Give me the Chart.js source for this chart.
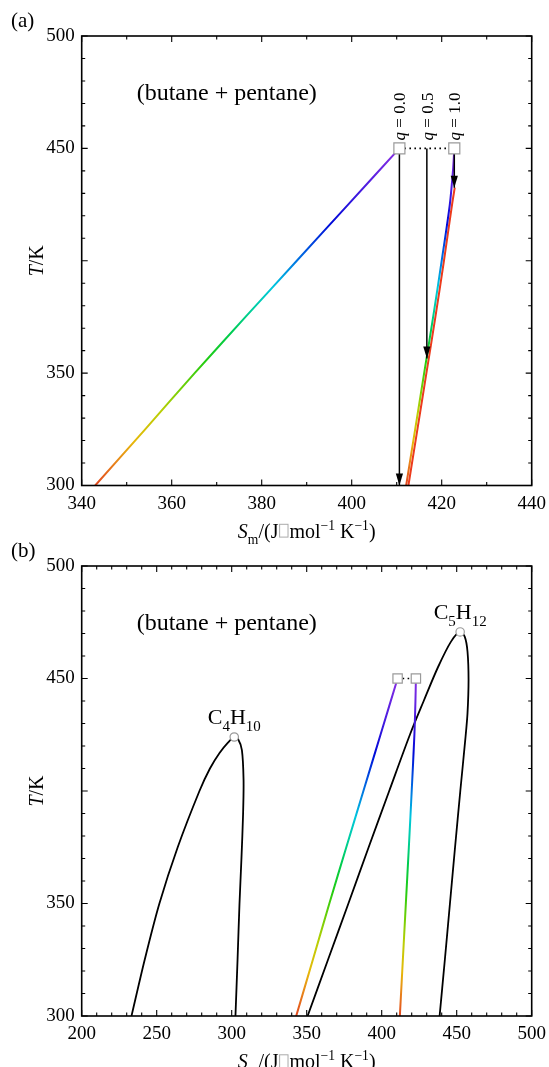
<!DOCTYPE html>
<html>
<head>
<meta charset="utf-8">
<script src="https://cdn.jsdelivr.net/npm/chart.js@4.4.0/dist/chart.umd.min.js"></script>
<style>
  body { margin: 0; background: #fff; }
  #wrap { position: relative; width: 549px; height: 1067px; overflow: hidden; }
  .panel { position: absolute; left: 0; width: 549px; }
  #pa { top: 0; height: 548px; }
  #pb { top: 533px; height: 534px; }
</style>
</head>
<body>
<div id="wrap">
  <div class="panel" id="pa"><canvas id="chartA"></canvas></div>
  <div class="panel" id="pb"><canvas id="chartB"></canvas></div>
</div>
<script>
// mixture (butane + pentane) saturation lines, coloured by temperature
const dewT = [300, 325, 350, 375, 400, 425, 450];
const dewS = [343.0, 354.1, 365.1, 376.4, 387.8, 399.2, 410.6];
const bubT = [300, 325, 350, 375, 400, 425, 440, 450];
const bubS = [412.1, 414.1, 416.1, 418.1, 420.0, 421.8, 422.5, 422.8];

// end states of the expansions (red line, panel a)
const endT = [300, 325, 350, 375, 400, 425, 432.5];
const endS = [412.6, 414.6, 416.6, 418.6, 420.5, 422.3, 422.9];

// expansions from 450 K
const qValues = ['0.0', '0.5', '1.0'];
const qS = [410.6, 416.7, 422.8];
const qTopT = 450;
const qEndT = [300, 356.5, 432.5];

// pure fluids saturation domes
const butS = [233.2, 242.0, 251.8, 264.0, 278.5, 285.5, 292.0, 297.5, 301.7, 304.3, 306.8, 307.9, 307.6, 306.5, 305.2, 303.9, 302.5];
const butT = [300, 325, 350, 375, 400, 410, 417, 421.5, 424, 423, 418.2, 405, 390, 370, 350, 325, 300];
const penS = [350.6, 364.2, 377.8, 391.3, 405.0, 418.8, 428.0, 437.5, 446.3, 452.3, 455.4, 457.2, 457.9, 457.2, 455.7, 452.4, 448.9, 445.5, 442.1, 438.6];
const penT = [300, 325, 350, 375, 400, 425, 440, 455, 466.5, 470.7, 468.5, 462, 449.3, 434.5, 422.7, 400, 375, 350, 325, 300];
const critNames = ['C4H10', 'C5H12'];
const critS = [301.7, 452.3];
const critT = [424, 470.7];

const pts = (S, T) => S.map((s, i) => ({ x: s, y: T[i] }));

const rainbow = [
  [0.00, '#e2471f'], [0.07, '#e8851a'], [0.13, '#e6b80a'], [0.22, '#b9cf05'],
  [0.30, '#66cf08'], [0.37, '#22cc12'], [0.45, '#00cc4e'], [0.52, '#00cf9c'],
  [0.59, '#00c6de'], [0.67, '#0072e2'], [0.78, '#0008d8'], [0.88, '#4a1ce0'], [1.00, '#8a2ee4']
];
function tempGradient(c) {
  const chart = c.chart;
  if (!chart.chartArea) return '#e2471f';
  const y = chart.scales.y;
  const g = chart.ctx.createLinearGradient(0, y.getPixelForValue(300), 0, y.getPixelForValue(450));
  rainbow.forEach(s => g.addColorStop(s[0], s[1]));
  return g;
}

const SERIF = '"Liberation Serif", "Times New Roman", serif';
function fontFor(p, size) {
  const s = (p.sub || p.sup) ? size * 0.68 : size;
  return (p.i ? 'italic ' : '') + s + 'px ' + SERIF;
}
function partWidth(ctx, p, size) {
  if (p.box) return size * 0.55;
  ctx.font = fontFor(p, size);
  return ctx.measureText(p.t).width;
}
function drawRich(ctx, parts, x, y, size, align) {
  const w = parts.map(p => partWidth(ctx, p, size));
  const total = w.reduce((a, b) => a + b, 0);
  let cx = align === 'center' ? x - total / 2 : x;
  ctx.textAlign = 'left';
  ctx.textBaseline = 'alphabetic';
  parts.forEach((p, i) => {
    if (p.box) {
      // missing-glyph box, as in the original figure
      ctx.strokeStyle = '#aaa';
      ctx.lineWidth = 1;
      ctx.strokeRect(cx + size * 0.06, y - size * 0.66, size * 0.42, size * 0.64);
    } else {
      ctx.font = fontFor(p, size);
      ctx.fillStyle = '#000';
      const dy = p.sub ? size * 0.3 : p.sup ? -size * 0.38 : 0;
      ctx.fillText(p.t, cx, y + dy);
    }
    cx += w[i];
  });
}
const xTitle = [{ t: 'S', i: 1 }, { t: 'm', sub: 1 }, { t: '/(J' }, { t: '', box: 1 }, { t: 'mol' },
  { t: '\u22121', sup: 1 }, { t: ' K' }, { t: '\u22121', sup: 1 }, { t: ')' }];
const yTitle = [{ t: 'T', i: 1 }, { t: '/K' }];
function formula(name) {
  return name.match(/[A-Z][a-z]?|\d+/g).map(t => /\d/.test(t) ? { t, sub: 1 } : { t });
}

const decor = {
  id: 'decor',
  afterDatasetsDraw(chart) {
    const ctx = chart.ctx;
    chart.data.datasets.forEach((ds, i) => {
      if (!ds.arrow) return;
      const d = chart.getDatasetMeta(i).data;
      const tip = d[d.length - 1], prev = d[d.length - 2];
      const ang = Math.atan2(tip.y - prev.y, tip.x - prev.x);
      ctx.save();
      ctx.translate(tip.x, tip.y);
      ctx.rotate(ang);
      ctx.beginPath();
      ctx.moveTo(0, 0); ctx.lineTo(-12, -3.6); ctx.lineTo(-12, 3.6); ctx.closePath();
      ctx.fillStyle = '#000';
      ctx.fill();
      ctx.restore();
    });
  },
  afterDraw(chart, args, o) {
    const { ctx, chartArea: a, scales: { x, y } } = chart;
    ctx.save();
    ctx.strokeStyle = '#000';
    ctx.lineWidth = 1.1;
    ctx.beginPath();
    for (let v = x.min; v <= x.max + 1e-6; v += 10) {
      const px = x.getPixelForValue(v);
      const len = Math.abs(v % o.xMajor) < 1e-6 ? 6 : 3.5;
      ctx.moveTo(px, a.bottom); ctx.lineTo(px, a.bottom - len);
      ctx.moveTo(px, a.top); ctx.lineTo(px, a.top + len);
    }
    for (let v = y.min; v <= y.max + 1e-6; v += 10) {
      const py = y.getPixelForValue(v);
      const len = Math.abs(v % 50) < 1e-6 ? 6 : 3.5;
      ctx.moveTo(a.left, py); ctx.lineTo(a.left + len, py);
      ctx.moveTo(a.right, py); ctx.lineTo(a.right - len, py);
    }
    ctx.stroke();
    ctx.lineWidth = 1.6;
    ctx.strokeRect(a.left, a.top, a.width, a.height);

    // panel letter and mixture note
    drawRich(ctx, [{ t: o.letter }], 11, a.top - 9, 21, 'left');
    drawRich(ctx, [{ t: '(butane + pentane)' }], a.left + 55, a.top + 64, 24, 'left');

    // axis titles
    drawRich(ctx, xTitle, (a.left + a.right) / 2, a.bottom + 52, 20, 'center');
    ctx.save();
    ctx.translate(43, (a.top + a.bottom) / 2);
    ctx.rotate(-Math.PI / 2);
    drawRich(ctx, yTitle, 0, 0, 20, 'center');
    ctx.restore();

    chart.data.datasets.forEach((ds, i) => {
      const d = chart.getDatasetMeta(i).data;
      if (ds.qLabel) {
        ctx.save();
        ctx.translate(d[0].x + 6, d[0].y - 8);
        ctx.rotate(-Math.PI / 2);
        drawRich(ctx, [{ t: 'q', i: 1 }, { t: ' = ' + ds.qLabel }], 0, 0, 17, 'left');
        ctx.restore();
      }
      if (ds.names) {
        d.forEach((p, k) => drawRich(ctx, formula(ds.names[k]), p.x, p.y - 13, 22, 'center'));
      }
    });
    ctx.restore();
  }
};

function axes(xMin, xMax, xStep, xHeight) {
  const tickFont = { family: SERIF, size: 19 };
  return {
    x: {
      type: 'linear', min: xMin, max: xMax,
      ticks: { stepSize: xStep, font: tickFont, color: '#000', padding: 7, maxRotation: 0, autoSkip: false },
      grid: { display: false, drawTicks: false }, border: { display: false },
      afterFit: s => { s.height = xHeight; s.paddingLeft = 0; s.paddingRight = 0; }
    },
    y: {
      type: 'linear', min: 300, max: 500,
      ticks: { stepSize: 50, font: tickFont, color: '#000', padding: 7, callback: v => v === 400 ? '' : v },
      grid: { display: false, drawTicks: false }, border: { display: false },
      afterFit: s => { s.width = 81.7; s.paddingTop = 0; s.paddingBottom = 0; }
    }
  };
}

function line(data, color, width, order, extra) {
  return Object.assign({ data, showLine: true, borderColor: color, borderWidth: width,
    pointRadius: 0, tension: 0.3, fill: false, order }, extra || {});
}
const squares = (r) => ({
  data: pts([qS[0], qS[2]], [qTopT, qTopT]), showLine: false, pointStyle: 'rect', pointRadius: r,
  pointBackgroundColor: '#fff', pointBorderColor: '#9a9a9a', pointBorderWidth: 1.2, order: 0
});
const dotted = () => line(pts([qS[0], qS[2]], [qTopT, qTopT]), '#000', 1.6, 3, { borderDash: [1.6, 3.4], tension: 0 });

const base = (letter, xMajor, top) => ({
  responsive: true, maintainAspectRatio: false, animation: false,
  layout: { padding: { top, right: 17.3, left: 0, bottom: 0 } },
  plugins: { legend: { display: false }, tooltip: { enabled: false }, decor: { letter, xMajor } }
});

// panel (a)
const optA = base('(a)', 20, 36);
optA.scales = axes(340, 440, 20, 62.5);
const arrowSets = qValues.map((q, i) => line(pts([qS[i], qS[i]], [qTopT, qEndT[i]]), '#000', 1.5, 2,
  { tension: 0, arrow: true, qLabel: q }));
new Chart(document.getElementById('chartA'), {
  type: 'scatter',
  data: {
    datasets: [
      line(pts(endS, endT), '#ec3b1d', 2, 6),
      line(pts(bubS, bubT), tempGradient, 2, 5),
      line(pts(dewS, dewT), tempGradient, 2, 5),
      dotted(),
      ...arrowSets,
      squares(7.8)
    ]
  },
  options: optA,
  plugins: [decor]
});

// panel (b)
const optB = base('(b)', 50, 33);
optB.scales = axes(200, 500, 50, 51);
new Chart(document.getElementById('chartB'), {
  type: 'scatter',
  data: {
    datasets: [
      line(pts(butS, butT), '#000', 1.8, 6),
      line(pts(penS, penT), '#000', 1.8, 6),
      line(pts(bubS, bubT), tempGradient, 2, 5),
      line(pts(dewS, dewT), tempGradient, 2, 5),
      dotted(),
      squares(6.6),
      { data: pts(critS, critT), names: critNames, showLine: false, pointStyle: 'circle', pointRadius: 4.2,
        pointBackgroundColor: '#fff', pointBorderColor: '#9a9a9a', pointBorderWidth: 1.2, order: 0 }
    ]
  },
  options: optB,
  plugins: [decor]
});
</script>
</body>
</html>
